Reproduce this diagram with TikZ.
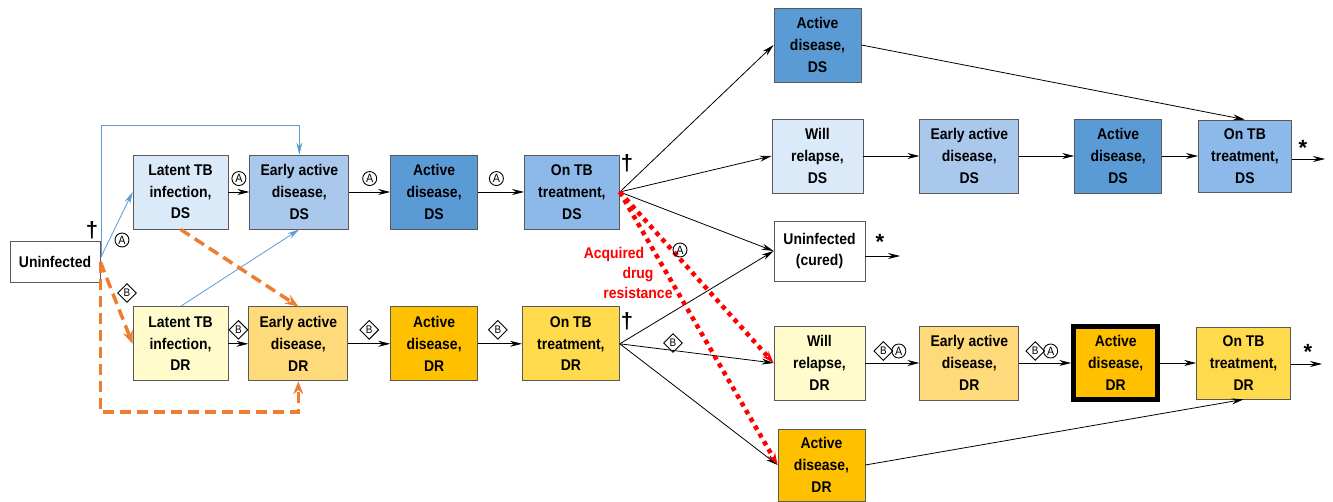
\documentclass[tikz,border=0pt]{standalone}
\usepackage{fontspec}
\setmainfont{Liberation Sans}
\newfontfamily\boxfont{Liberation Sans}[FakeStretch=0.9]
\usepackage{xcolor}
\definecolor{colorLatentDS}{HTML}{DAEAF8}
\definecolor{colorEarlyDS}{HTML}{A9C8EC}
\definecolor{colorActiveDS}{HTML}{5B9BD5}
\definecolor{colorTreatDS}{HTML}{8DB9EA}
\definecolor{colorLatentDR}{HTML}{FFFBCB}
\definecolor{colorEarlyDR}{HTML}{FFDA7A}
\definecolor{colorActiveDR}{HTML}{FFC000}
\definecolor{colorTreatDR}{HTML}{FFDA4D}
\definecolor{colorBorder}{HTML}{595959}
\definecolor{colorLink}{HTML}{5B9BD5}
\definecolor{colorSwitch}{HTML}{ED7D31}
\colorlet{colorResist}{red}
\usetikzlibrary{arrows.meta, positioning, shapes.geometric}
\tikzset{
  box/.style={draw=colorBorder, line width=0.8pt, align=center, minimum height=74pt, inner sep=2pt, font=\boxfont\fontsize{15.5}{21.7}\selectfont\bfseries},
  stratA/.style={circle, draw, line width=0.9pt, inner sep=0pt, minimum size=14pt, font=\boxfont\fontsize{12}{12}\selectfont},
  stratB/.style={diamond, draw, line width=0.9pt, inner sep=0pt, minimum size=19pt, font=\boxfont\fontsize{11}{11}\selectfont},
  sign/.style={inner sep=0pt, font=\fontsize{22}{22}\selectfont\bfseries},
  link/.style={->, colorLink, line width=0.8pt},
  switch/.style={-{Stealth[length=13pt,width=10pt]}, colorSwitch, line width=3.5pt, dash pattern=on 11pt off 6pt},
  resist/.style={-{Stealth[length=12pt,width=8pt]}, colorResist, line width=4.5pt, dash pattern=on 4.5pt off 4.5pt}
}

\begin{document}
\begin{tikzpicture}[x=1pt, y=-1pt, >={Stealth[length=12pt,width=6pt]}, line width=0.8pt, node distance=21pt]
\useasboundingbox (0,0) rectangle (1333,502);
% first infection, DS and DR rows
\node[box, minimum width=90pt, minimum height=41pt] (unf) at (55,262) {Uninfected};
\node[box, fill=colorLatentDS, minimum width=95pt] (latds) at (180.5,192) {Latent TB\\infection,\\DS};
\node[box, fill=colorEarlyDS, minimum width=99pt, right=21pt of latds] (earlyds) {Early active\\disease,\\DS};
\node[box, fill=colorActiveDS, minimum width=87pt, right=41pt of earlyds] (actds) {Active\\disease,\\DS};
\node[box, fill=colorTreatDS, minimum width=95pt, right=46pt of actds] (treatds) {On TB\\treatment,\\DS};
\node[box, fill=colorLatentDR, minimum width=95pt, below=77pt of latds] (latdr) {Latent TB\\infection,\\DR};
\node[box, fill=colorEarlyDR, minimum width=99pt, right=20pt of latdr] (earlydr) {Early active\\disease,\\DR};
\node[box, fill=colorActiveDR, minimum width=87pt, right=42pt of earlydr] (actdr) {Active\\disease,\\DR};
\node[box, fill=colorTreatDR, minimum width=97pt, right=44pt of actdr] (treatdr) {On TB\\treatment,\\DR};
% after treatment
\node[box, fill=colorActiveDS, minimum width=87pt] (actds2) at (817.5,45) {Active\\disease,\\DS};
\node[box, fill=colorLatentDS, minimum width=91pt] (relds) at (817.5,156) {Will\\relapse,\\DS};
\node[box, fill=colorEarlyDS, minimum width=99pt, right=56pt of relds] (earlyds2) {Early active\\disease,\\DS};
\node[box, fill=colorActiveDS, minimum width=87pt, right=55pt of earlyds2] (actds3) {Active\\disease,\\DS};
\node[box, fill=colorTreatDS, minimum width=93pt, minimum height=72pt, right=36pt of actds3] (treatds2) {On TB\\treatment,\\DS};
\node[box, minimum width=91pt, minimum height=60pt] (cured) at (819.5,251) {Uninfected\\(cured)};
\node[box, fill=colorLatentDR, minimum width=91pt] (reldr) at (819.5,363) {Will\\relapse,\\DR};
\node[box, fill=colorActiveDR, minimum width=87pt, minimum height=72pt] (actdr2) at (821.5,465) {Active\\disease,\\DR};
\node[box, fill=colorEarlyDR, minimum width=99pt, right=54pt of reldr] (earlydr2) {Early active\\disease,\\DR};
\node[box, fill=colorActiveDR, draw=black, line width=5pt, minimum width=84pt, minimum height=73pt, right=52pt of earlydr2] (actdr3) {Active\\disease,\\DR};
\node[box, fill=colorTreatDR, minimum width=94pt, minimum height=72pt, right=36pt of actdr3] (treatdr2) {On TB\\treatment,\\DR};
% first infection links
\coordinate (ufork) at (101,257);
\draw[link] (ufork) -- (latds.west);
\draw[link] (ufork) |- ([yshift=29pt]earlyds.north) -- (earlyds.north);
\draw[link] (latdr.north) -- (earlyds.south);
\draw[switch] (unf.east) -- (latdr.west);
\draw[switch] (unf.east) -- ++(0,150) -| (earlydr.south);
\draw[switch] (latds.south) -- (earlydr.north);
\node[stratA] (a0) at (122,240) {A};
\node[stratB] (b0) at (127,293) {B};
\node[sign] (dag0) at (92,230) {\textdagger};
% progression
\draw[->] (latds) -- node[stratA, above=6pt] (a1) {A} (earlyds);
\draw[->] (earlyds) -- node[stratA, above=6pt] (a2) {A} (actds);
\draw[->] (actds) -- node[stratA, above=6pt, pos=0.4] (a3) {A} (treatds);
\draw[->] (latdr) -- node[stratB, above=4pt] (b1) {B} (earlydr);
\draw[->] (earlydr) -- node[stratB, above=4pt] (b2) {B} (actdr);
\draw[->] (actdr) -- node[stratB, above=4pt, pos=0.45] (b3) {B} (treatdr);
\node[sign] (dag1) at (627,163) {\textdagger};
\node[sign] (dag2) at (627,321) {\textdagger};
% treatment outcomes
\draw[->] (treatds.east) -- (actds2.west);
\draw[->] (treatds.east) -- (relds.west);
\draw[->] (treatds.east) -- (cured.west);
\draw[->] (treatdr.east) -- (cured.west);
\draw[->] (treatdr.east) -- (reldr.west);
\draw[->] (treatdr.east) -- (actdr2.west);
\draw[resist] (treatds.east) -- (reldr.west);
\draw[resist] (treatds.east) -- (actdr2.west);
\node[text=colorResist, font=\boxfont\fontsize{15.5}{20}\selectfont\bfseries, align=center, inner sep=0pt] (adr) at (638,273) {Acquired\hspace*{48pt}\\drug\hspace*{-4pt}\\resistance};
\node[stratA] (a4) at (680,250) {A};
\node[stratB] (b4) at (673,343) {B};
% relapse and onward
\draw[->] (actds2.east) -- (treatds2.north);
\draw[->] (relds) -- (earlyds2);
\draw[->] (earlyds2) -- (actds3);
\draw[->] (actds3) -- (treatds2);
\draw[->] (reldr) -- coordinate[midway] (m1) (earlydr2);
\node[stratB] (b5) at ([xshift=-9pt,yshift=12pt]m1) {B};
\node[stratA, right=-2pt of b5] (a5) {A};
\draw[->] (earlydr2) -- coordinate[midway] (m2) (actdr3);
\node[stratB] (b6) at ([xshift=-10pt,yshift=12pt]m2) {B};
\node[stratA, right=-2pt of b6] (a6) {A};
\draw[->] (actdr3) -- (treatdr2);
\draw[->] (actdr2.east) -- (treatdr2.south);
% exits
\coordinate (cout) at (900,256);
\coordinate (dsout) at (1325,159);
\coordinate (drout) at (1322,364);
\draw[->] (cured.east |- cout) -- (cout);
\draw[->] (treatds2.east |- dsout) -- (dsout);
\draw[->] (treatdr2.east |- drout) -- (drout);
\node[sign] (ast0) at (880,242) {*};
\node[sign] (ast1) at (1303,148) {*};
\node[sign] (ast2) at (1308,352) {*};
\end{tikzpicture}
\end{document}
